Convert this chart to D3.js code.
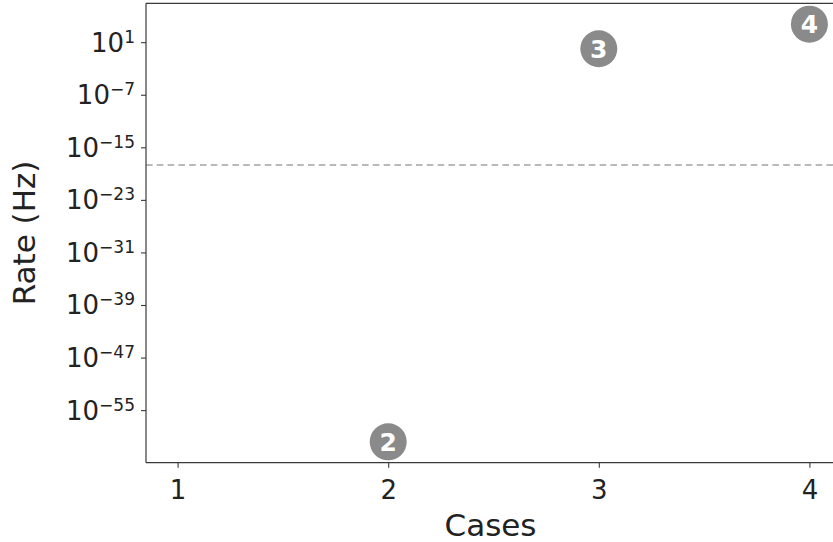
<!DOCTYPE html>
<html>
<head>
<meta charset="utf-8">
<script src="https://cdn.jsdelivr.net/npm/d3@7/dist/d3.min.js"></script>
<style>
  html, body { margin: 0; padding: 0; background: #fff; }
  svg { display: block; font-family: "DejaVu Sans", sans-serif; }
</style>
</head>
<body>
<svg id="chart" width="833" height="542"></svg>
<script>
// Rate per case (Hz); case 1 has no measurable rate and is not drawn
const cases = [1, 2, 3, 4];
const rates = [null, 1.5e-60, 1.0, 5.5e3];
const caseLabels = ["1", "2", "3", "4"];
const yTickExponents = [1, -7, -15, -23, -31, -39, -47, -55];
const thresholdRate = 2e-18;

const W = 833, H = 542;
const plot = { left: 146, right: 841, top: 3.3, bottom: 462.7 };

const svg = d3.select("#chart");

// x: case index with 5% padding on either side
const xMin = d3.min(cases), xMax = d3.max(cases);
const xPad = (xMax - xMin) * 0.05;
const x = d3.scaleLinear()
  .domain([xMin - xPad, xMax + xPad])
  .range([plot.left, plot.right]);

// y: log scale padded by 5% of the decade span of the data
const logs = rates.filter(v => v != null).map(v => Math.log10(v));
const lMin = d3.min(logs), lMax = d3.max(logs);
const lPad = (lMax - lMin) * 0.05;
const y = d3.scaleLog()
  .domain([Math.pow(10, lMin - lPad), Math.pow(10, lMax + lPad)])
  .range([plot.bottom, plot.top]);

const axisColor = "#3a3a3a";

// threshold line
svg.append("line")
  .attr("x1", plot.left).attr("x2", plot.right)
  .attr("y1", y(thresholdRate)).attr("y2", y(thresholdRate))
  .attr("stroke", "#a3a3a3")
  .attr("stroke-width", 1.6)
  .attr("stroke-dasharray", "6.6,4.2");

// x axis
const xAxis = d3.axisBottom(x)
  .tickValues(cases)
  .tickFormat((d, i) => caseLabels[i])
  .tickSize(5)
  .tickPadding(12.5);
const gx = svg.append("g")
  .attr("transform", `translate(0,${plot.bottom})`)
  .call(xAxis);
gx.select(".domain").remove();
gx.selectAll(".tick line").attr("stroke", axisColor).attr("stroke-width", 1.1);
gx.selectAll(".tick text")
  .attr("fill", "#222")
  .style("font-size", "26px")
  .style("font-family", "DejaVu Sans, sans-serif");

// y axis with 10^n labels
const yAxis = d3.axisLeft(y)
  .tickValues(yTickExponents.map(e => Math.pow(10, e)))
  .tickFormat("")
  .tickSize(5);
const gy = svg.append("g")
  .attr("transform", `translate(${plot.left},0)`)
  .call(yAxis);
gy.select(".domain").remove();
gy.selectAll(".tick line").attr("stroke", axisColor).attr("stroke-width", 1.1);
gy.selectAll(".tick").each(function(d, i) {
  const e = yTickExponents[i];
  const t = d3.select(this).select("text")
    .attr("x", -11)
    .attr("dy", null)
    .attr("y", 9)
    .attr("text-anchor", "end")
    .attr("fill", "#222")
    .style("font-family", "DejaVu Sans, sans-serif");
  t.append("tspan").style("font-size", "26px").text("10");
  t.append("tspan")
    .style("font-size", "17px")
    .attr("dy", -9)
    .text(e < 0 ? "\u2212" + Math.abs(e) : String(e));
});

// spines
const spines = svg.append("g").attr("stroke", axisColor).attr("stroke-width", 1.2);
spines.append("line").attr("x1", plot.left).attr("x2", plot.left)
  .attr("y1", plot.top).attr("y2", plot.bottom);
spines.append("line").attr("x1", plot.left).attr("x2", plot.right)
  .attr("y1", plot.bottom).attr("y2", plot.bottom);
spines.append("line").attr("x1", plot.left).attr("x2", plot.right)
  .attr("y1", plot.top).attr("y2", plot.top);
spines.append("line").attr("x1", plot.right).attr("x2", plot.right)
  .attr("y1", plot.top).attr("y2", plot.bottom);

// numbered markers
const pts = cases.map((c, i) => ({ c, r: rates[i], label: caseLabels[i] }))
  .filter(p => p.r != null);
const mk = svg.append("g").selectAll("g").data(pts).join("g")
  .attr("transform", p => `translate(${x(p.c)},${y(p.r)})`);
mk.append("circle").attr("r", 18.5).attr("fill", "#8a8a8a");
mk.append("text")
  .attr("text-anchor", "middle")
  .attr("y", 9)
  .attr("fill", "#fff")
  .style("font-size", "25px")
  .style("font-weight", "bold")
  .text(p => p.label);

// axis titles
svg.append("text")
  .attr("x", (plot.left + plot.right) / 2 - 3)
  .attr("y", 536)
  .attr("text-anchor", "middle")
  .attr("fill", "#222")
  .style("font-size", "31px")
  .text("Cases");

svg.append("text")
  .attr("transform", `translate(35,${(plot.top + plot.bottom) / 2}) rotate(-90)`)
  .attr("text-anchor", "middle")
  .attr("fill", "#222")
  .style("font-size", "31px")
  .text("Rate (Hz)");
</script>
</body>
</html>
